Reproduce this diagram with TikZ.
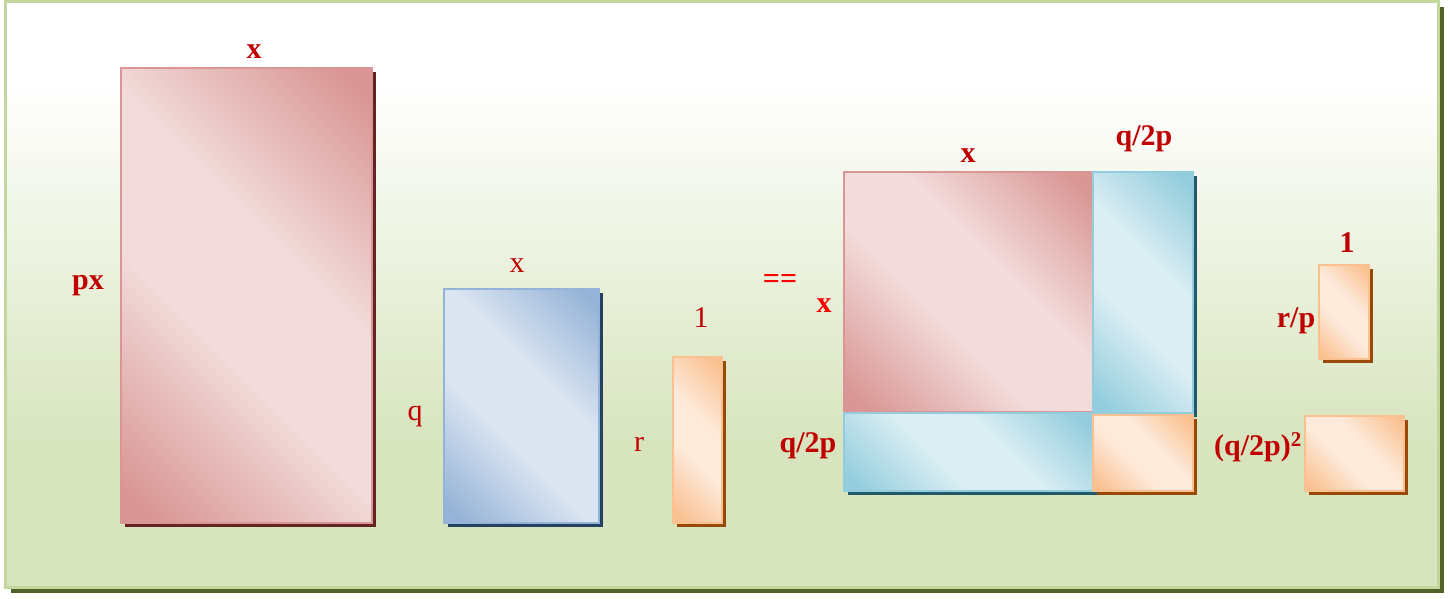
\documentclass[tikz,border=0pt]{standalone}
\usepackage{fontspec}
\setmainfont{Liberation Serif}
\usetikzlibrary{shadows}
\definecolor{rdark}{HTML}{D99694}
\definecolor{rlight}{HTML}{F2DCDB}
\definecolor{rshadow}{HTML}{632523}
\definecolor{bdark}{HTML}{95B3D7}
\definecolor{blight}{HTML}{DCE6F2}
\definecolor{bshadow}{HTML}{254061}
\definecolor{cdark}{HTML}{93CDDD}
\definecolor{clight}{HTML}{DBEEF4}
\definecolor{cshadow}{HTML}{215968}
\definecolor{odark}{HTML}{FAC090}
\definecolor{olight}{HTML}{FDEADA}
\definecolor{oshadow}{HTML}{984807}
\definecolor{gtop}{HTML}{FFFFFF}
\definecolor{gbot}{HTML}{D7E4BD}
\definecolor{gline}{HTML}{C3D69B}
\definecolor{gshadow}{HTML}{4F6228}
\definecolor{lblred}{HTML}{C00000}
\definecolor{brightred}{HTML}{FF0000}
\pgfdeclareverticalshading{redsh}{100bp}{color(0bp)=(rdark); color(18bp)=(rdark); color(42bp)=(rlight); color(58bp)=(rlight); color(82bp)=(rdark); color(100bp)=(rdark)}
\pgfdeclareverticalshading{bluesh}{100bp}{color(0bp)=(bdark); color(18bp)=(bdark); color(42bp)=(blight); color(58bp)=(blight); color(82bp)=(bdark); color(100bp)=(bdark)}
\pgfdeclareverticalshading{cyansh}{100bp}{color(0bp)=(cdark); color(18bp)=(cdark); color(42bp)=(clight); color(58bp)=(clight); color(82bp)=(cdark); color(100bp)=(cdark)}
\pgfdeclareverticalshading{orangesh}{100bp}{color(0bp)=(odark); color(18bp)=(odark); color(42bp)=(olight); color(58bp)=(olight); color(82bp)=(odark); color(100bp)=(odark)}
\pgfdeclareverticalshading{bgsh}{100bp}{color(0bp)=(gbot); color(37bp)=(gbot); color(68bp)=(gtop); color(100bp)=(gtop)}
\tikzset{
  box/.style={inner sep=0pt, outer sep=0pt, anchor=north west, line width=2pt},
  redbox/.style={box, draw=rdark, shading=redsh, shading angle=-45,
    general shadow={fill=rshadow, shadow xshift=4pt, shadow yshift=-4pt}},
  bluebox/.style={box, draw=bdark, shading=bluesh, shading angle=-45,
    general shadow={fill=bshadow, shadow xshift=4pt, shadow yshift=-4pt}},
  cyanbox/.style={box, draw=cdark, shading=cyansh, shading angle=-45,
    general shadow={fill=cshadow, shadow xshift=4pt, shadow yshift=-4pt}},
  orangebox/.style={box, draw=odark, shading=orangesh, shading angle=-45,
    general shadow={fill=oshadow, shadow xshift=4pt, shadow yshift=-4pt}},
  lbl/.style={inner sep=0pt, text=lblred, font=\fontsize{30}{32}\selectfont},
  blbl/.style={lbl, font=\fontsize{30}{32}\selectfont\bfseries},
}
\begin{document}
\begin{tikzpicture}[x=1pt,y=-1pt]
\useasboundingbox (0,0) rectangle (1450,598);
% frame
\node[inner sep=0pt, outer sep=0pt, anchor=north west, minimum width=1433pt, minimum height=586pt,
  draw=gline, line width=3pt, shading=bgsh,
  general shadow={fill=gshadow, shadow xshift=5.5pt, shadow yshift=-5.5pt}] (frame) at (5.5,1.5) {};
% left group
\node[redbox, minimum width=251pt, minimum height=455pt] (A) at (121,68) {};
\node[bluebox, minimum width=155pt, minimum height=234pt] (B) at (444,289) {};
\node[orangebox, minimum width=49pt, minimum height=166pt] (C) at (673,357) {};
% composite square
\node[redbox, minimum width=249pt, minimum height=240pt] (D) at (844,172) {};
\node[cyanbox, minimum width=100pt, minimum height=241pt] (E) at (1093,172) {};
\node[cyanbox, minimum width=249pt, minimum height=78pt] (F) at (844,413) {};
\node[orangebox, minimum width=100pt, minimum height=76pt] (G) at (1093,415) {};
% right pieces
\node[orangebox, minimum width=50pt, minimum height=94pt] (H) at (1319,265) {};
\node[orangebox, minimum width=99pt, minimum height=75pt] (I) at (1305,416) {};
% labels
\node[blbl] (lAx) at (254,52) {x};
\node[blbl] (lApx) at (88,286) {px};
\node[lbl] (lBx) at (517,266) {x};
\node[lbl] (lBq) at (415,416) {q};
\node[lbl] (lC1) at (701,318) {1};
\node[lbl] (lCr) at (639,444) {r};
\node[blbl, text=brightred] (leq) at (780,281) {==};
\node[blbl] (lDx) at (968,156) {x};
\node[blbl, text=brightred] (lDxl) at (824,306) {x};
\node[blbl] (lEq) at (1144,139) {q/2p};
\node[blbl] (lFq) at (808,446) {q/2p};
\node[blbl] (lH1) at (1347,243) {1};
\node[blbl] (lHr) at (1296,321) {r/p};
\node[blbl] (lIq) at (1258,447) {(q/2p)\textsuperscript{2}};
\end{tikzpicture}
\end{document}
